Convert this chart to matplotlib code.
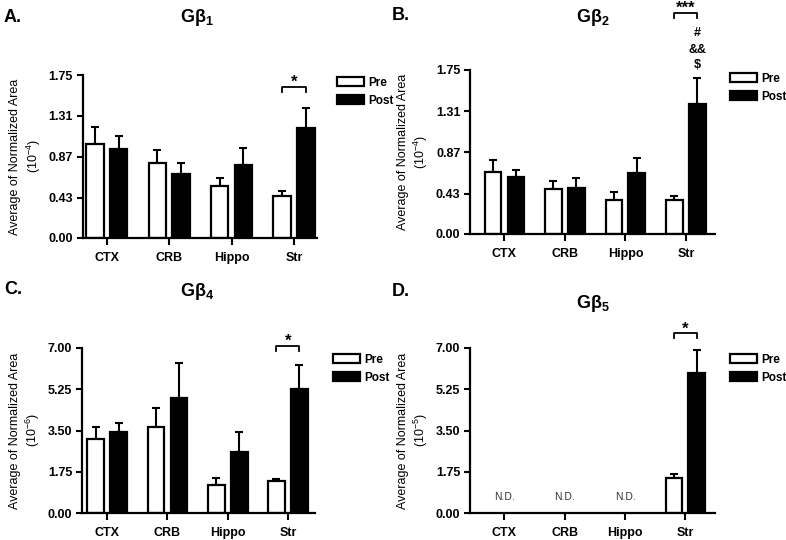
import numpy as np
import matplotlib
matplotlib.use('Agg')
import matplotlib.pyplot as plt

plt.rcParams['font.family'] = ['Liberation Sans', 'DejaVu Sans']
plt.rcParams['mathtext.fontset'] = 'custom'
plt.rcParams['mathtext.rm'] = 'Liberation Sans'
plt.rcParams['mathtext.bf'] = 'Liberation Sans:bold'
plt.rcParams['mathtext.default'] = 'regular'

regions = ['CTX', 'CRB', 'Hippo', 'Str']

# panel A: Gb1 (10^-4)
pre_a = [1.01, 0.81, 0.555, 0.45]
pre_a_err = [0.18, 0.14, 0.09, 0.055]
post_a = [0.96, 0.69, 0.78, 1.18]
post_a_err = [0.14, 0.11, 0.19, 0.22]

# panel B: Gb2 (10^-4)
pre_b = [0.665, 0.48, 0.363, 0.363]
pre_b_err = [0.125, 0.086, 0.082, 0.042]
post_b = [0.605, 0.494, 0.651, 1.384]
post_b_err = [0.078, 0.106, 0.157, 0.281]

# panel C: Gb4 (10^-6)
pre_c = [3.16, 3.64, 1.17, 1.34]
pre_c_err = [0.50, 0.82, 0.32, 0.11]
post_c = [3.42, 4.88, 2.57, 5.24]
post_c_err = [0.38, 1.49, 0.88, 1.06]

# panel D: Gb5 (10^-5), not detected outside striatum
pre_d = [np.nan, np.nan, np.nan, 1.50]
pre_d_err = [0, 0, 0, 0.14]
post_d = [np.nan, np.nan, np.nan, 5.94]
post_d_err = [0, 0, 0, 0.96]

W, H = 786, 540
fig = plt.figure(figsize=(W / 100, H / 100), dpi=100)


def px_axes(left, right, top, bottom):
    return fig.add_axes([left / W, 1 - bottom / H, (right - left) / W, (bottom - top) / H])


def panel(box, xlim, ymax, ticks, pre, pre_err, post, post_err, exp, label, title,
          title_xy, label_xy, legend_xy, bracket_y, stars):
    ax = px_axes(*box)
    x = np.arange(len(regions))
    w = 0.28
    off = 0.19
    pre = np.array(pre, dtype=float)
    post = np.array(post, dtype=float)
    ok = ~np.isnan(pre)
    ax.bar(x[ok] - off, pre[ok], w, color='white', edgecolor='black', linewidth=1.6,
           label='Pre', zorder=2)
    ax.bar(x[ok] + off, post[ok], w, color='black', edgecolor='black', linewidth=1.6,
           label='Post', zorder=2)
    z = np.zeros(ok.sum())
    ax.errorbar(x[ok] - off, pre[ok], yerr=[z, np.array(pre_err)[ok]], fmt='none',
                ecolor='black', elinewidth=1.5, capsize=3, capthick=1.5, zorder=1)
    ax.errorbar(x[ok] + off, post[ok], yerr=[z, np.array(post_err)[ok]], fmt='none',
                ecolor='black', elinewidth=1.5, capsize=3, capthick=1.5, zorder=1)
    for i in np.where(~ok)[0]:
        ax.text(x[i], ymax * 0.1, 'N.D.', ha='center', va='center', fontsize=7.5,
                color='#333333')

    ax.set_xlim(*xlim)
    ax.set_ylim(0, ymax)
    ax.set_yticks(ticks)
    ax.set_yticklabels(['%.2f' % t for t in ticks], fontweight='bold', fontsize=9)
    ax.set_xticks(x)
    ax.set_xticklabels(regions, fontweight='bold', fontsize=9)
    ax.tick_params(axis='both', direction='out', width=1.5, length=4, pad=3)
    ax.tick_params(axis='x', length=5, pad=5)
    for s in ['top', 'right']:
        ax.spines[s].set_visible(False)
    for s in ['left', 'bottom']:
        ax.spines[s].set_linewidth(1.6)
    ax.set_ylabel('Average of Normalized Area\n(10$^{%s}$)' % exp, fontsize=9,
                  linespacing=1.25, labelpad=4)

    # significance bracket on Str
    leg = ymax * 0.03
    bx = [3 - off, 3 - off, 3 + off, 3 + off]
    by = [bracket_y - leg, bracket_y, bracket_y, bracket_y - leg]
    ax.plot(bx, by, color='black', lw=1.3, clip_on=False)
    ax.text(3, bracket_y, stars, ha='center', va='baseline',
            fontsize=12, fontweight='bold', clip_on=False)

    fig.text(title_xy[0] / W, 1 - title_xy[1] / H, title, ha='center', va='center',
             fontsize=13, fontweight='bold')
    fig.text(label_xy[0] / W, 1 - label_xy[1] / H, label, ha='left', va='center',
             fontsize=13, fontweight='bold')
    ax.legend(loc='upper left', bbox_to_anchor=(legend_xy[0] / W, 1 - legend_xy[1] / H),
              bbox_transform=fig.transFigure, frameon=False,
              prop={'weight': 'bold', 'size': 8.5}, handlelength=2.3, handleheight=0.8,
              handletextpad=0.35, labelspacing=0.5, borderpad=0, borderaxespad=0)
    return ax


ax_a = panel((82.5, 317, 75, 238), (-0.39, 3.37), 1.75, [0, 0.43, 0.87, 1.31, 1.75],
             pre_a, pre_a_err, post_a, post_a_err, '-4', 'A.', r'G$\beta_1$',
             (197, 18), (4, 18), (337, 77), 1.62, '*')
ax_b = panel((470, 715, 70, 234), (-0.57, 3.48), 1.75, [0, 0.43, 0.87, 1.31, 1.75],
             pre_b, pre_b_err, post_b, post_b_err, '-4', 'B.', r'G$\beta_2$',
             (593, 18), (392, 15), (730, 73), 2.36, '***')
ax_c = panel((82, 315, 348, 513), (-0.42, 3.45), 7.0, [0, 1.75, 3.5, 5.25, 7.0],
             pre_c, pre_c_err, post_c, post_c_err, '-6', 'C.', r'G$\beta_4$',
             (197, 291), (4, 290), (333, 354), 7.10, '*')
ax_d = panel((470, 715, 348, 513), (-0.57, 3.49), 7.0, [0, 1.75, 3.5, 5.25, 7.0],
             pre_d, pre_d_err, post_d, post_d_err, '-5', 'D.', r'G$\beta_5$',
             (593, 304), (392, 291), (730, 354), 7.62, '*')

# extra marks above the Str Post bar in panel B
for sym, yv in [('#', 2.14), ('&&', 1.96), ('$', 1.80)]:
    ax_b.text(3 + 0.19, yv, sym.replace('$', r'\$'), ha='center', va='center',
              fontsize=9, fontweight='bold', clip_on=False)

fig.savefig('out.png', dpi=100)
